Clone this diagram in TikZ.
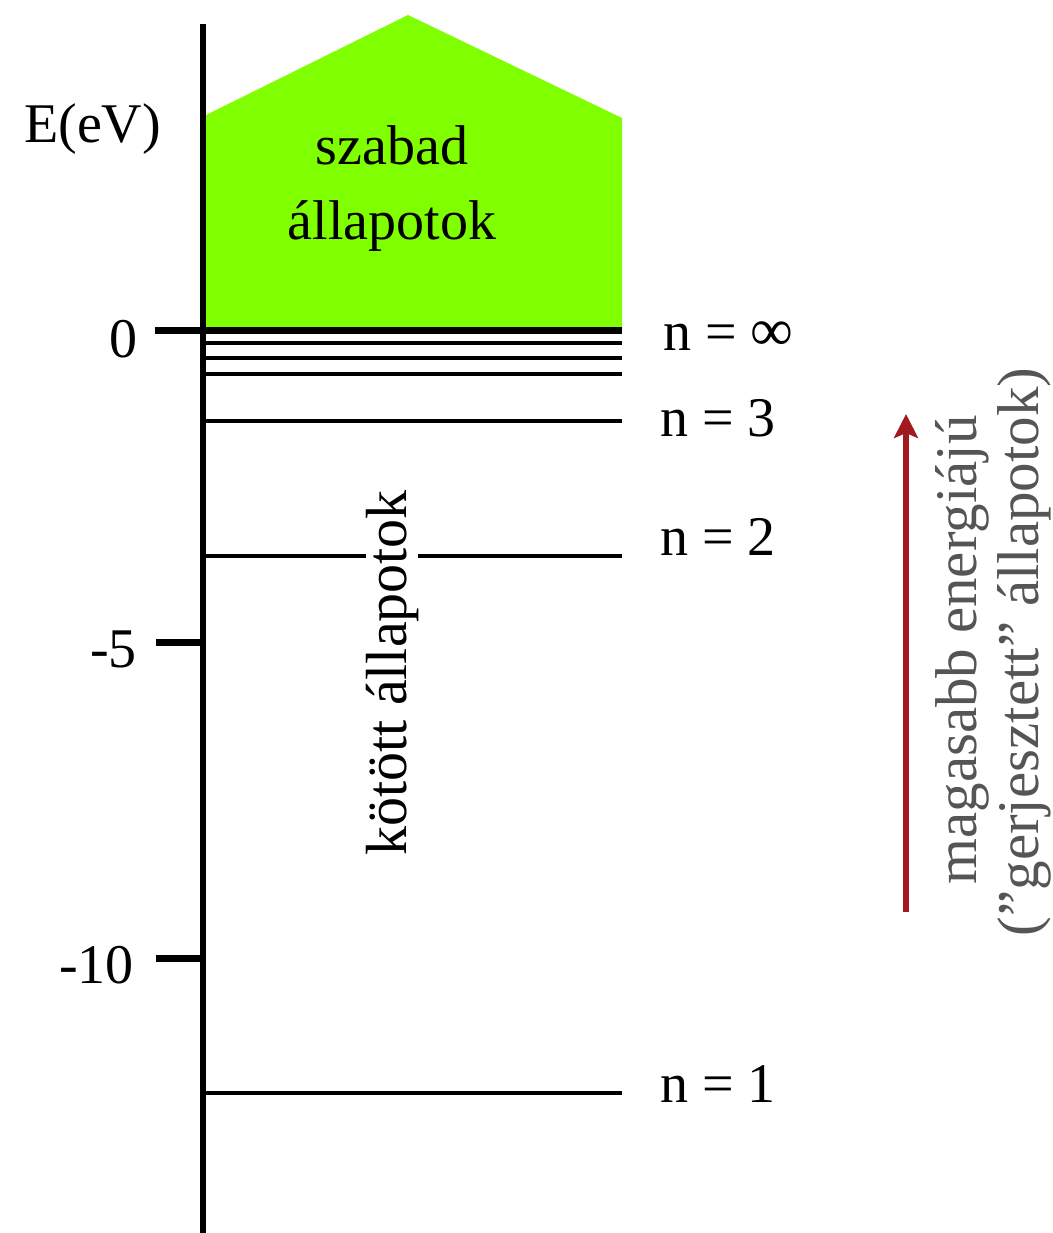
\documentclass[tikz,border=0pt]{standalone}
\usepackage{fontspec}
\setmainfont{Liberation Serif}
\usetikzlibrary{arrows.meta}
\definecolor{freegreen}{RGB}{128,255,0}
\definecolor{arrowred}{RGB}{160,26,32}
\definecolor{notegray}{RGB}{85,85,85}
\begin{document}
\begin{tikzpicture}[x=1pt,y=-1pt,
  lbl/.style={font=\fontsize{56}{60}\selectfont, inner sep=0pt},
  note/.style={font=\fontsize{59}{62}\selectfont, text=notegray, inner sep=0pt, rotate=90, anchor=base},
  thinlevel/.style={line width=3.3pt},
  thicklevel/.style={line width=7pt},
  ticklevel/.style={line width=7pt},
  axisline/.style={line width=6.5pt}]
\useasboundingbox (0,0) rectangle (1052,1233);
% free states region
\fill[freegreen] (206,330) -- (206,115) -- (408,15) -- (622,118) -- (622,330) -- cycle;
\node[lbl, anchor=base] (szabad) at (392,165) {szabad};
\node[lbl, anchor=base] (allapotok) at (392,240) {állapotok};
% axis
\coordinate (axtop) at (203,24);
\coordinate (axbot) at (203,1240);
\draw[axisline] (axtop) -- (axbot);
% ticks
\coordinate (t0l) at (155,330); \coordinate (t0r) at (622,330);
\coordinate (t5l) at (156,642); \coordinate (t5r) at (203,642);
\coordinate (t10l) at (156,958); \coordinate (t10r) at (203,958);
\draw[thicklevel] (t0l) -- (t0r);
\draw[ticklevel] (t5l) -- (t5r);
\draw[ticklevel] (t10l) -- (t10r);
% levels
\foreach \nm/\yy in {la/343,lb/358,lc/374,n3/421,n2/556,n1/1093}{
  \coordinate (\nm L) at (203,\yy);
  \coordinate (\nm R) at (622,\yy);
  \draw[thinlevel] (\nm L) -- (\nm R);
}
% axis labels
\node[lbl, anchor=base west] (elabel) at (24,143) {E(eV)};
\node[lbl, anchor=base east] (zero) at (138,357) {0};
\node[lbl, anchor=base east] (mfive) at (137,667) {-5};
\node[lbl, anchor=base east] (mten) at (134,983) {-10};
% level labels
\node[lbl, anchor=base west] (ninf) at (663,350) {n = \fontsize{60}{60}\selectfont∞};
\node[lbl, anchor=base west] (nthree) at (660,436) {n = 3};
\node[lbl, anchor=base west] (ntwo) at (660,555) {n = 2};
\node[lbl, anchor=base west] (none) at (660,1102) {n = 1};
% bound states label
\node[lbl, font=\fontsize{58}{60}\selectfont, rotate=90, anchor=base, fill=white, inner xsep=0pt, inner ysep=0pt] (kotott) at (406,673) {kötött állapotok};
% excited states arrow
\coordinate (arrS) at (906,912);
\coordinate (arrE) at (906,414);
\draw[arrowred, line width=6pt, -{Stealth[length=24pt,width=24pt,inset=5pt]}] (arrS) -- (arrE);
\node[note] (note1) at (976,650) {magasabb energiájú};
\node[note] (note2) at (1038,652) {(”gerjesztett” állapotok)};
\end{tikzpicture}
\end{document}
